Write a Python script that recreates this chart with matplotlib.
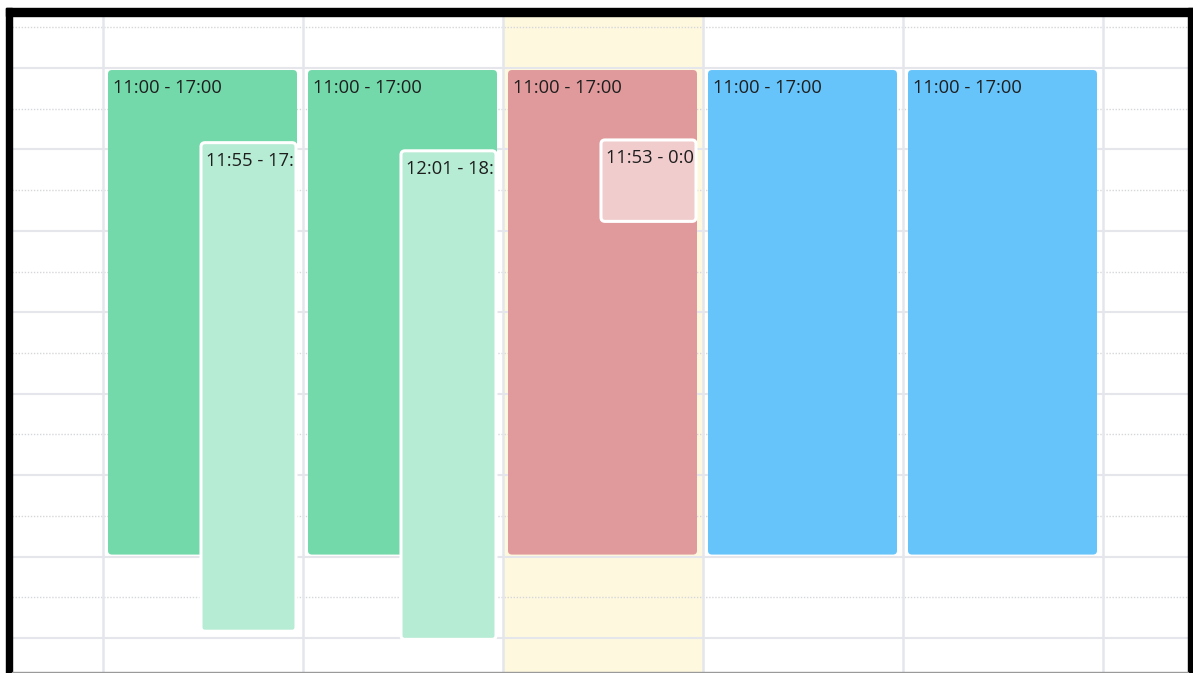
import matplotlib
matplotlib.use("Agg")
import matplotlib.pyplot as plt
from matplotlib.patches import Rectangle, FancyBboxPatch
from matplotlib.transforms import IdentityTransform, Bbox, TransformedBbox

# events: day column, start hour, end hour, lane (0 = full, 1 = overlap), label
ev_day = [0, 0, 1, 1, 2, 2, 3, 4]
ev_start = [11.0, 11 + 55/60, 11.0, 12 + 1/60, 11.0, 11 + 53/60, 11.0, 11.0]
ev_end = [17.0, 17 + 55/60, 17.0, 18 + 1/60, 17.0, 12 + 53/60, 17.0, 17.0]
ev_lane = [0, 1, 0, 1, 0, 1, 0, 0]
ev_label = ["11:00 - 17:00", "11:55 - 17:55", "11:00 - 17:00", "12:01 - 18:01",
            "11:00 - 17:00", "11:53 - 0:00", "11:00 - 17:00", "11:00 - 17:00"]
ev_color = ["#73d8aa", "#b6ebd4", "#73d8aa", "#b6ebd4",
            "#e09a9c", "#f0cccd", "#66c4fb", "#66c4fb"]

today = 2
n_days = 6
first_hour = 10.5
last_hour = 18.0

W, H = 1193, 673
fig = plt.figure(figsize=(W / 100, H / 100), dpi=100)
# inner area inside the black frame
ax = fig.add_axes([12 / W, 0, (1188 - 12) / W, (H - 16) / H])
ax.set_xlim(-0.455, 5.425)
ax.set_ylim(18.43, 10.361)
ax.axis("off")

# today highlight
ax.axvspan(today, today + 1, color="#fef8df", zorder=0)

# half hour grid
h = first_hour
while h <= last_hour:
    if h == int(h):
        ax.axhline(h, color="#e4e6eb", lw=1.5, zorder=1)
    else:
        ax.axhline(h, color="#d6d7db", lw=1.0, ls=(0, (1, 1.2)), zorder=1)
    h += 0.5

for d in range(n_days):
    ax.axvline(d, color="#e4e6eb", lw=1.8, zorder=1)

# px -> data unit helpers
px_x = 1 / 200
px_y = 1 / 81.43
aspect = px_y / px_x

for i in range(len(ev_day)):
    d = ev_day[i]
    y0, y1 = ev_start[i], ev_end[i]
    if ev_lane[i] == 0:
        x0, x1 = d + 0.025, d + 0.97
        y0, y1 = y0 + 2 * px_y, y1 - 2 * px_y
        ec, lw = "none", 0
    else:
        x0, x1 = d + 0.49, d + 0.965
        ec, lw = "white", 2.2
    box = FancyBboxPatch((x0, y0), x1 - x0, y1 - y0,
                         boxstyle="round,pad=0,rounding_size=%f" % (4 * px_x),
                         mutation_aspect=aspect,
                         fc=ev_color[i], ec=ec, lw=lw, zorder=2 + ev_lane[i])
    ax.add_patch(box)
    t = ax.text(x0 + 5 * px_x, y0 + 18 * px_y, ev_label[i],
                fontsize=13.2, family="Open Sans", color="#1e1e1e",
                ha="left", va="center", zorder=4, clip_on=True)
    # agg ignores clip paths for text, so clip to the box rectangle
    clip = Bbox([[x0, y0], [x1 - 2 * px_x, y1]])
    t.set_clip_box(TransformedBbox(clip, ax.transData))

# black frame around the view
ident = IdentityTransform()
fig.add_artist(Rectangle((6, 0), 6, H - 8, transform=ident, color="black"))
fig.add_artist(Rectangle((6, H - 16), W - 6, 8, transform=ident, color="black"))
fig.add_artist(Rectangle((1188, 0), 5, H - 8, transform=ident, color="black"))
fig.add_artist(Rectangle((12, 0), 1176, 1.2, transform=ident, color="#9a9a9a"))

fig.savefig("out.png", dpi=100)
